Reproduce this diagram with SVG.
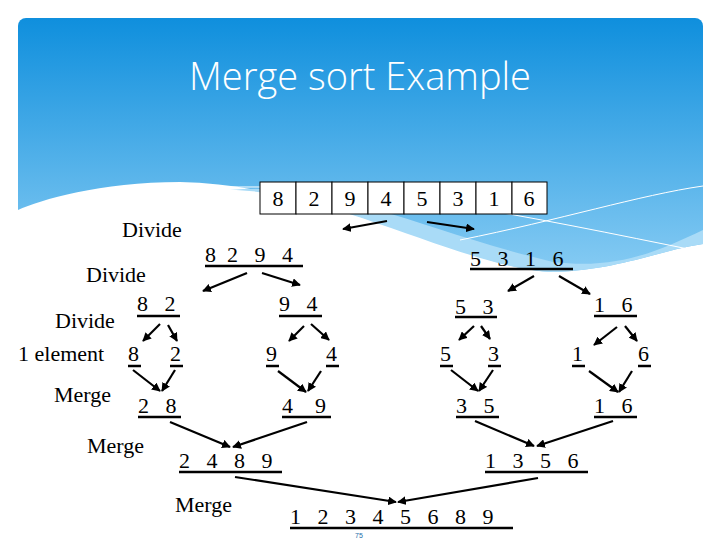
<svg xmlns="http://www.w3.org/2000/svg" width="720" height="540" viewBox="0 0 720 540">
<defs>
<linearGradient id="bg" x1="0" y1="0" x2="0" y2="1"><stop offset="0" stop-color="#0f8fdd"/><stop offset="1" stop-color="#86cbf3"/></linearGradient>
<clipPath id="hc"><rect x="18" y="18" width="685" height="300" rx="8"/></clipPath>
<marker id="ah" viewBox="0 0 10 10" refX="9" refY="5" markerWidth="4" markerHeight="4" orient="auto" markerUnits="strokeWidth"><path d="M0,0 L10,5 L0,10 z" fill="#000"/></marker>
<style>
text.t, .t text{font-family:'Liberation Serif','Times New Roman',serif;font-size:22px;fill:#000;white-space:pre}
.u{stroke:#000;stroke-width:2.5}
.c line{stroke:#000;stroke-width:2.2;marker-end:url(#ah)}
.cell{fill:#fff;stroke:#000;stroke-width:1}
</style>
</defs>
<rect width="720" height="540" fill="#fff"/>
<g id="header" clip-path="url(#hc)">
<path d="M18,18 H703 V244 C660,250 620,270 553,272 C470,270 330,185 180,182 C100,182 40,200 18,210 Z" fill="url(#bg)"/>
<path d="M230,190 C330,180 420,230 553,262 C620,270 660,250 703,230 V244 C660,250 620,270 553,272 C470,270 330,190 230,190 Z" fill="#a9dbf7"/>
<path d="M230,187 C380,185 520,215 703,252" fill="none" stroke="#fff" stroke-width="1"/>
<path d="M460,240 C560,220 640,195 703,186" fill="none" stroke="#fff" stroke-width="1"/>
<text x="360" y="90" text-anchor="middle" font-family="'Open Sans',sans-serif" font-size="38" font-weight="300" fill="#fff">Merge sort Example</text>
</g>
<g id="array">
<rect class="cell" x="260" y="182" width="36" height="32"/><rect class="cell" x="296" y="182" width="36" height="32"/>
<rect class="cell" x="332" y="182" width="36" height="32"/><rect class="cell" x="368" y="182" width="36" height="32"/>
<rect class="cell" x="404" y="182" width="36" height="32"/><rect class="cell" x="440" y="182" width="36" height="32"/>
<rect class="cell" x="476" y="182" width="36" height="32"/><rect class="cell" x="512" y="182" width="35" height="32"/>
<g class="t" text-anchor="middle">
<text x="278" y="206">8</text><text x="314" y="206">2</text><text x="350" y="206">9</text><text x="386" y="206">4</text>
<text x="422" y="206">5</text><text x="458" y="206">3</text><text x="494" y="206">1</text><text x="529" y="206">6</text>
</g>
</g>
<g id="labels" class="t">
<text x="122" y="237">Divide</text>
<text x="86" y="282">Divide</text>
<text x="55" y="328">Divide</text>
<text x="18" y="361">1 element</text>
<text x="54" y="402">Merge</text>
<text x="87" y="453">Merge</text>
<text x="175" y="512">Merge</text>
</g>
<g id="nodes" class="t">
<g id="n8294"><text x="205" y="262">8  2   9   4</text><line class="u" x1="205" y1="266" x2="303" y2="266"/></g>
<g id="n5316"><text x="470" y="266">5   3   1   6</text><line class="u" x1="470" y1="269" x2="573" y2="269"/></g>
<g id="n82"><text x="137" y="311">8   2</text><line class="u" x1="137" y1="316" x2="180" y2="316"/></g>
<g id="n94"><text x="279" y="311">9   4</text><line class="u" x1="279" y1="316" x2="322" y2="316"/></g>
<g id="n53"><text x="455" y="314">5   3</text><line class="u" x1="455" y1="317" x2="497" y2="317"/></g>
<g id="n16a"><text x="594" y="312">1   6</text><line class="u" x1="594" y1="316" x2="637" y2="316"/></g>
<g id="n8"><text x="128" y="361">8</text><line class="u" x1="128" y1="366" x2="141" y2="366"/></g>
<g id="n2"><text x="170" y="361">2</text><line class="u" x1="170" y1="366" x2="183" y2="366"/></g>
<g id="n9"><text x="266" y="361">9</text><line class="u" x1="266" y1="366" x2="279" y2="366"/></g>
<g id="n4"><text x="326" y="361">4</text><line class="u" x1="326" y1="366" x2="339" y2="366"/></g>
<g id="n5"><text x="440" y="361">5</text><line class="u" x1="440" y1="366" x2="453" y2="366"/></g>
<g id="n3"><text x="488" y="361">3</text><line class="u" x1="488" y1="366" x2="501" y2="366"/></g>
<g id="n1"><text x="572" y="361">1</text><line class="u" x1="572" y1="366" x2="585" y2="366"/></g>
<g id="n6"><text x="638" y="361">6</text><line class="u" x1="638" y1="366" x2="651" y2="366"/></g>
<g id="n28"><text x="138" y="413">2   8</text><line class="u" x1="138" y1="417" x2="181" y2="417"/></g>
<g id="n49"><text x="282" y="413">4    9</text><line class="u" x1="282" y1="417" x2="331" y2="417"/></g>
<g id="n35"><text x="456" y="413">3   5</text><line class="u" x1="456" y1="417" x2="499" y2="417"/></g>
<g id="n16b"><text x="594" y="413">1   6</text><line class="u" x1="594" y1="417" x2="637" y2="417"/></g>
<g id="n2489"><text x="179" y="468">2   4   8   9</text><line class="u" x1="179" y1="472" x2="282" y2="472"/></g>
<g id="n1356"><text x="485" y="468">1   3   5   6</text><line class="u" x1="485" y1="472" x2="588" y2="472"/></g>
<g id="nall"><text x="290" y="524">1   2   3   4   5   6   8   9</text><line class="u" x1="290" y1="528" x2="513" y2="528"/></g>
</g>
<text x="355" y="538" font-family="'Liberation Sans',sans-serif" font-size="7" fill="#1e6ea8">75</text>
<g id="connectors" class="c">
<line x1="387" y1="221" x2="343" y2="229"/><line x1="427" y1="222" x2="474" y2="229"/>
<line x1="247" y1="273" x2="203" y2="291"/><line x1="262" y1="273" x2="300" y2="285"/>
<line x1="160" y1="324" x2="143" y2="341"/><line x1="168" y1="325" x2="177" y2="341"/>
<line x1="304" y1="326" x2="289" y2="341"/><line x1="311" y1="324" x2="329" y2="340"/>
<line x1="133" y1="370" x2="160" y2="391"/><line x1="175" y1="370" x2="162" y2="391"/>
<line x1="278" y1="371" x2="306" y2="392"/><line x1="321" y1="371" x2="308" y2="391"/>
<line x1="170" y1="422" x2="230" y2="447"/><line x1="307" y1="422" x2="233" y2="447"/>
<line x1="235" y1="477" x2="396" y2="502"/>
<line x1="534" y1="276" x2="508" y2="291"/><line x1="559" y1="276" x2="590" y2="294"/>
<line x1="474" y1="326" x2="459" y2="340"/><line x1="481" y1="326" x2="490" y2="339"/>
<line x1="617" y1="327" x2="594" y2="345"/><line x1="625" y1="326" x2="637" y2="341"/>
<line x1="451" y1="370" x2="478" y2="391"/><line x1="493" y1="370" x2="479" y2="391"/>
<line x1="589" y1="371" x2="618" y2="392"/><line x1="632" y1="371" x2="619" y2="392"/>
<line x1="475" y1="421" x2="534" y2="446"/><line x1="613" y1="421" x2="537" y2="446"/>
<line x1="538" y1="478" x2="398" y2="502"/>
</g>
</svg>
